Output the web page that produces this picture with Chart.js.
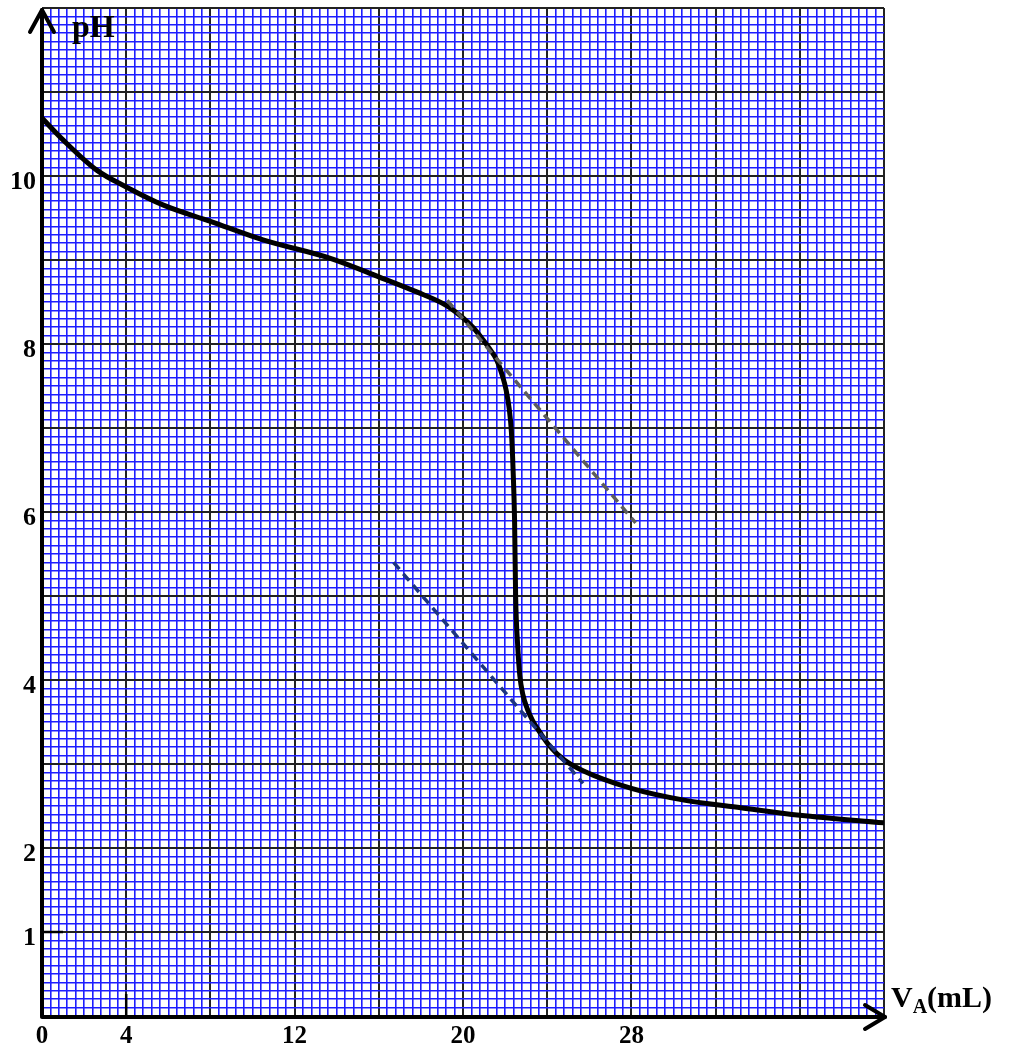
<!DOCTYPE html>
<html>
<head>
<meta charset="utf-8">
<script src="https://cdn.jsdelivr.net/npm/chart.js@4"></script>
<style>
  html, body { margin: 0; padding: 0; background: #fff; }
  #wrap { width: 1010px; height: 1048px; }
</style>
</head>
<body>
<div id="wrap"><canvas id="phChart"></canvas></div>
<script>
// Titration curve values
const volume = [0, 1, 2.6, 4, 5.8, 8, 10.5, 13.7, 16, 17.8, 19.2, 20, 20.5, 20.95, 21.3, 21.6, 21.85, 22.05, 22.2, 22.3, 22.38, 22.45, 22.5, 22.6, 22.7, 22.85, 23.05, 23.3, 23.7, 24.1, 24.8, 25.7, 28, 30.5, 33.2, 36, 40];
const phValues = [10.69, 10.43, 10.07, 9.87, 9.65, 9.46, 9.24, 9.02, 8.8, 8.62, 8.46, 8.31, 8.19, 8.05, 7.93, 7.81, 7.64, 7.45, 7.22, 6.95, 6.5, 5.9, 5.0, 4.4, 4.05, 3.82, 3.66, 3.52, 3.36, 3.22, 3.05, 2.92, 2.71, 2.57, 2.48, 2.39, 2.30];

// Tangent lines (dashed)
const upperTangentV = [19.25, 28.2];
const upperTangentPH = [8.52, 5.87];
const lowerTangentV = [16.7, 25.7];
const lowerTangentPH = [5.40, 2.77];

// Tick labels shown on the axes
const xTickLabels = [0, 4, 12, 20, 28];
const yTickLabels = [1, 2, 4, 6, 8, 10];

const toPoints = (xs, ys) => xs.map((x, i) => ({ x: x, y: ys[i] }));

const serif = '"Liberation Serif", "Times New Roman", serif';
const blueGrid = '#1e1eff';
const majorGrid = '#222222';

// every 10th grid line is a dark one (4 mL / 1 pH)
const isMajor = (c) => c.index % 10 === 0;

const decorations = {
  id: 'decorations',
  afterDraw(chart) {
    const { ctx, chartArea } = chart;
    const xs = chart.scales.x;
    const ys = chart.scales.y;
    const left = chartArea.left;
    const bottom = chartArea.bottom;
    ctx.save();
    ctx.strokeStyle = '#000';
    ctx.lineCap = 'round';
    ctx.lineJoin = 'round';

    // y axis + arrow
    ctx.lineWidth = 4;
    ctx.beginPath();
    ctx.moveTo(left, bottom);
    ctx.lineTo(left, chartArea.top + 2);
    ctx.stroke();
    ctx.beginPath();
    ctx.moveTo(left - 12, chartArea.top + 24);
    ctx.lineTo(left, chartArea.top + 2);
    ctx.lineTo(left + 12, chartArea.top + 24);
    ctx.stroke();

    // x axis + arrow
    const right = chartArea.right + 1;
    ctx.beginPath();
    ctx.moveTo(left, bottom + 1);
    ctx.lineTo(right, bottom + 1);
    ctx.stroke();
    ctx.beginPath();
    ctx.moveTo(right - 20, bottom - 11);
    ctx.lineTo(right, bottom + 1);
    ctx.lineTo(right - 20, bottom + 13);
    ctx.stroke();

    // small marks at pH 1 and V = 4
    ctx.lineWidth = 2.5;
    ctx.lineCap = 'butt';
    const y1 = ys.getPixelForValue(1);
    ctx.beginPath();
    ctx.moveTo(left, y1);
    ctx.lineTo(left + 21, y1);
    ctx.stroke();
    const x4 = xs.getPixelForValue(4);
    ctx.beginPath();
    ctx.moveTo(x4, bottom);
    ctx.lineTo(x4, bottom - 22);
    ctx.stroke();

    // axis titles
    ctx.fillStyle = '#000';
    ctx.textBaseline = 'alphabetic';
    ctx.textAlign = 'left';
    ctx.font = 'bold 32px ' + serif;
    ctx.fillText('pH', 72, 37);

    ctx.font = 'bold 30px ' + serif;
    let tx = 891;
    ctx.fillText('V', tx, 1007);
    tx += ctx.measureText('V').width;
    ctx.font = 'bold 20px ' + serif;
    ctx.fillText('A', tx, 1013);
    tx += ctx.measureText('A').width;
    ctx.font = 'bold 30px ' + serif;
    ctx.fillText('(mL)', tx, 1007);
    ctx.restore();
  }
};

new Chart(document.getElementById('phChart'), {
  type: 'scatter',
  data: {
    datasets: [
      {
        label: 'pH',
        data: toPoints(volume, phValues),
        showLine: true,
        borderColor: '#000',
        borderWidth: 5,
        pointRadius: 0,
        cubicInterpolationMode: 'monotone',
        order: 1
      },
      {
        label: 'tangent 1',
        data: toPoints(upperTangentV, upperTangentPH),
        showLine: true,
        borderColor: '#5c5c5c',
        borderWidth: 3.5,
        borderDash: [9, 6],
        pointRadius: 0,
        order: 0
      },
      {
        label: 'tangent 2',
        data: toPoints(lowerTangentV, lowerTangentPH),
        showLine: true,
        borderColor: '#1d3580',
        borderWidth: 3.5,
        borderDash: [9, 6],
        pointRadius: 0,
        order: 0
      }
    ]
  },
  options: {
    responsive: true,
    maintainAspectRatio: false,
    animation: false,
    layout: { padding: { top: 8, right: 126, left: 0, bottom: 0 } },
    plugins: {
      legend: { display: false },
      tooltip: { enabled: false }
    },
    scales: {
      x: {
        type: 'linear',
        min: 0,
        max: 40,
        afterFit: (s) => { s.height = 32; s.paddingLeft = 0; s.paddingRight = 0; },
        border: { display: false },
        grid: {
          drawTicks: false,
          color: (c) => isMajor(c) ? majorGrid : blueGrid,
          lineWidth: (c) => isMajor(c) ? 2 : 1.6
        },
        ticks: {
          stepSize: 0.4,
          autoSkip: false,
          maxRotation: 0,
          padding: 6,
          color: '#000',
          font: { family: serif, size: 25, weight: 'bold' },
          callback: (v) => xTickLabels.some(t => Math.abs(t - v) < 1e-6) ? String(Math.round(v)) : ''
        }
      },
      y: {
        type: 'linear',
        min: 0,
        max: 12,
        afterFit: (s) => { s.width = 42; s.paddingTop = 0; s.paddingBottom = 0; },
        border: { display: false },
        grid: {
          drawTicks: false,
          color: (c) => isMajor(c) ? majorGrid : blueGrid,
          lineWidth: (c) => isMajor(c) ? 2 : 1.6
        },
        ticks: {
          stepSize: 0.1,
          autoSkip: false,
          padding: 6,
          labelOffset: 6,
          color: '#000',
          font: { family: serif, size: 26, weight: 'bold' },
          callback: (v) => yTickLabels.some(t => Math.abs(t - v) < 1e-6) ? String(Math.round(v)) : ''
        }
      }
    }
  },
  plugins: [decorations]
});
</script>
</body>
</html>
